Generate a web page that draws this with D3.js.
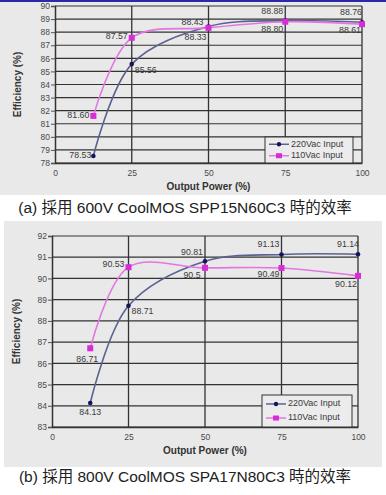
<!DOCTYPE html>
<html><head><meta charset="utf-8">
<script src="https://cdn.jsdelivr.net/npm/d3@7"></script>
<style>
html,body{margin:0;padding:0;background:#fff;}
svg{display:block;}
</style></head>
<body>
<svg id="c" width="386" height="495"></svg>
<script>
// ---- data ----
const loadPct = [12.5, 25, 50, 75, 100];
const xTicks = [0, 25, 50, 75, 100];
const seriesNames = ["220Vac Input", "110Vac Input"];

const a220 = [78.53, 85.56, 88.43, 88.88, 88.76];
const a110 = [81.60, 87.57, 88.33, 88.80, 88.61];
const aYTicks = [78, 79, 80, 81, 82, 83, 84, 85, 86, 87, 88, 89, 90];
const aCaption = "(a) 採用 600V CoolMOS SPP15N60C3 時的效率";

const b220 = [84.13, 88.71, 90.81, 91.13, 91.14];
const b110 = [86.71, 90.53, 90.5, 90.49, 90.12];
const bYTicks = [83, 84, 85, 86, 87, 88, 89, 90, 91, 92];
const bCaption = "(b) 採用 800V CoolMOS SPA17N80C3 時的效率";

const xTitle = "Output Power (%)";
const yTitle = "Efficiency (%)";

// ---- drawing ----
const svg = d3.select("#c");
const font = "'Liberation Sans', Arial, sans-serif";
const cjk = "'Liberation Sans', 'Noto Sans CJK TC', 'Noto Sans CJK SC', sans-serif";
const col220 = {line: "#5c6290", mark: "#14145e"};
const col110 = {line: "#e276e2", mark: "#d82cd8"};

svg.append("rect").attr("x",0).attr("y",0).attr("width",386).attr("height",2).attr("fill","#2a2aa8");

function drawChart(cfg) {
  const g = svg.append("g");
  g.append("rect").attr("x", cfg.bg[0]).attr("y", cfg.bg[1]).attr("width", cfg.bg[2]).attr("height", cfg.bg[3]).attr("fill", "#e9e9e9");
  const x = d3.scaleLinear().domain([0, 100]).range([cfg.x0, cfg.x1]);
  const y = d3.scaleLinear().domain(cfg.yDomain).range([cfg.yB, cfg.yT]);

  // horizontal grid
  g.append("g").selectAll("line").data(cfg.yTicks).join("line")
    .attr("x1", cfg.x0).attr("x2", cfg.x1).attr("y1", d => y(d)).attr("y2", d => y(d))
    .attr("stroke", "#333").attr("stroke-width", 1.2);
  // vertical grid
  g.append("g").selectAll("line").data(xTicks.filter(d => d > 0)).join("line")
    .attr("x1", d => x(d)).attr("x2", d => x(d)).attr("y1", cfg.yT).attr("y2", cfg.yB)
    .attr("stroke", "#333").attr("stroke-width", 1.3);

  // y axis
  const ya = g.append("g").attr("transform", `translate(${cfg.x0},0)`)
    .call(d3.axisLeft(y).tickValues(cfg.yTicks).tickSize(4).tickPadding(1).tickFormat(d3.format("d")));
  ya.select(".domain").attr("stroke", "#333").attr("stroke-width", 1.5);
  ya.selectAll(".tick line").attr("stroke", "#555");
  ya.selectAll("text").attr("font-family", font).attr("font-size", 8.5).attr("fill", "#4a4a4a");

  // x axis
  const xa = g.append("g").attr("transform", `translate(0,${cfg.yB})`)
    .call(d3.axisBottom(x).tickValues(xTicks).tickSize(0).tickPadding(7));
  xa.select(".domain").attr("stroke", "#333").attr("stroke-width", 1.5);
  xa.selectAll("text").attr("font-family", font).attr("font-size", 8.5).attr("fill", "#4a4a4a");

  // titles
  g.append("text").attr("x", (cfg.x0 + cfg.x1) / 2).attr("y", cfg.yB + 27)
    .attr("text-anchor", "middle").attr("font-family", font).attr("font-weight", "bold")
    .attr("font-size", 10).attr("fill", "#333").text(xTitle);
  g.append("text").attr("transform", `translate(${cfg.yTitleX},${(cfg.yT + cfg.yB) / 2}) rotate(-90)`)
    .attr("text-anchor", "middle").attr("font-family", font).attr("font-weight", "bold")
    .attr("font-size", 10).attr("fill", "#333").text(yTitle);

  const line = d3.line().x((d, i) => x(loadPct[i])).y(d => y(d)).curve(d3.curveCatmullRom.alpha(0.5));
  const series = [
    {vals: cfg.s220, c: col220, shape: "circle", lab: cfg.lab220},
    {vals: cfg.s110, c: col110, shape: "square", lab: cfg.lab110}
  ];
  series.forEach(s => {
    g.append("path").attr("d", line(s.vals)).attr("fill", "none").attr("stroke", s.c.line).attr("stroke-width", 1.6);
  });
  series.forEach(s => {
    const mg = g.append("g");
    s.vals.forEach((v, i) => {
      if (s.shape === "circle") {
        mg.append("circle").attr("cx", x(loadPct[i])).attr("cy", y(v)).attr("r", 2.3).attr("fill", s.c.mark);
      } else {
        mg.append("rect").attr("x", x(loadPct[i]) - 3).attr("y", y(v) - 3).attr("width", 6).attr("height", 6).attr("fill", s.c.mark);
      }
      const l = s.lab[i];
      g.append("text").attr("x", x(loadPct[i]) + l[0]).attr("y", y(v) + l[1])
        .attr("text-anchor", l[2]).attr("dominant-baseline", "middle")
        .attr("font-family", font).attr("font-size", 8.8).attr("fill", "#3a3a3a")
        .text(cfg.fmt ? cfg.fmt(v) : String(v));
    });
  });

  // legend
  const L = cfg.legend;
  const lg = g.append("g");
  lg.append("rect").attr("x", L[0]).attr("y", L[1]).attr("width", L[2]).attr("height", L[3])
    .attr("fill", "#ececec").attr("stroke", "#333").attr("stroke-width", 1);
  series.forEach((s, i) => {
    const yy = L[1] + L[3] * (i === 0 ? 0.28 : 0.72);
    lg.append("line").attr("x1", L[0] + 4).attr("x2", L[0] + 24).attr("y1", yy).attr("y2", yy)
      .attr("stroke", s.c.line).attr("stroke-width", 1.5);
    if (s.shape === "circle") lg.append("circle").attr("cx", L[0] + 14).attr("cy", yy).attr("r", 2.2).attr("fill", s.c.mark);
    else lg.append("rect").attr("x", L[0] + 11).attr("y", yy - 2.5).attr("width", 6).attr("height", 5).attr("fill", s.c.mark);
    lg.append("text").attr("x", L[0] + 26).attr("y", yy).attr("dominant-baseline", "middle")
      .attr("font-family", font).attr("font-size", 9).attr("fill", "#3a3a3a").text(seriesNames[i]);
  });

  // caption
  svg.append("text").attr("x", 185).attr("y", cfg.capY).attr("text-anchor", "middle")
    .attr("dominant-baseline", "middle").attr("font-family", cjk).attr("font-size", 15.5)
    .attr("fill", "#222").text(cfg.caption);
}

const fmt2 = v => v.toFixed(2);
drawChart({
  bg: [0, 2, 386, 193], x0: 55, x1: 362, yT: 6, yB: 163, yDomain: [78, 90], yTicks: aYTicks,
  yTitleX: 21, s220: a220, s110: a110, caption: aCaption, capY: 209, fmt: fmt2,
  legend: [265, 137, 88, 26],
  lab220: [[-2, 0, "end"], [3, 7, "start"], [-5, -4, "end"], [-13, -9, "middle"], [-11, -10, "middle"]],
  lab110: [[-4, 0, "end"], [-4, -1, "end"], [-13, 10, "middle"], [-13, 8, "middle"], [-12, 6, "middle"]]
});
drawChart({
  bg: [4, 221, 378, 246], x0: 52, x1: 358, yT: 236, yB: 427, yDomain: [83, 92], yTicks: bYTicks,
  yTitleX: 20, s220: b220, s110: b110, caption: bCaption, capY: 478,
  legend: [262, 395, 90, 32],
  lab220: [[0, 10, "middle"], [3, 6, "start"], [-13, -9, "middle"], [-13, -10, "middle"], [-10, -10, "middle"]],
  lab110: [[-3, 11, "middle"], [-4, -3, "end"], [-13, 8, "middle"], [-13, 7, "middle"], [-12, 9, "middle"]]
});
</script>
</body></html>
